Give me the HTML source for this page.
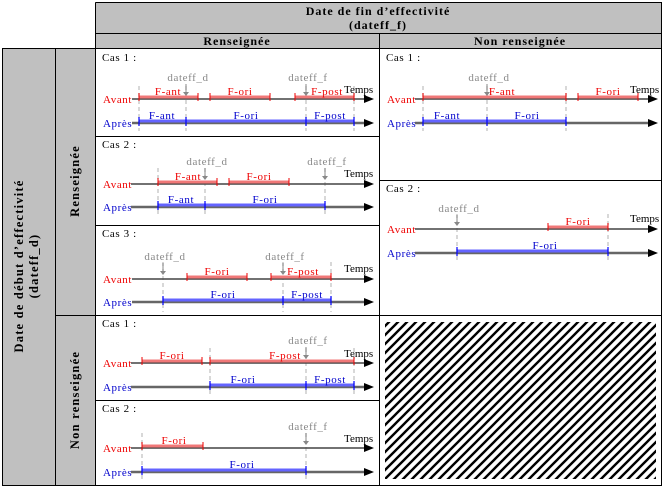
<!DOCTYPE html>
<html><head><meta charset="utf-8"><style>
body{margin:0;background:#fff}
svg{display:block;font-family:"Liberation Serif",serif;font-size:11px;letter-spacing:0.6px}
.ax{stroke:#444;stroke-width:1.6}
.ax2{stroke:#666;stroke-width:2.6}
.ah{fill:#000}
.r{stroke:#f07878;stroke-width:3}
.rt{stroke:#e00;stroke-width:1}
.b{stroke:#6464ff;stroke-width:3}
.bt{stroke:#00f;stroke-width:1.2}
.d{stroke:#ccc;stroke-width:1.5;stroke-dasharray:4 3}
.rl{fill:#e00;text-anchor:middle}
.bl{fill:#00c;text-anchor:middle}
.gl{fill:#888;text-anchor:middle}
.ga{stroke:#888;stroke-width:1}
.gh{fill:#888}
.av{fill:#e00}
.ap{fill:#00c}
.hd{font-weight:bold;font-size:12px;text-anchor:middle;letter-spacing:1px}
.vd{font-weight:bold;font-size:12.5px;text-anchor:middle;letter-spacing:1.2px}
</style></head><body>
<svg width="664" height="487" viewBox="0 0 664 487">
<defs>
<pattern id="h" patternUnits="userSpaceOnUse" width="9" height="9">
<path d="M-2 11L11 -2M-2 2L2 -2M7 11L11 7" stroke="#000" stroke-width="2.4"/>
</pattern>
</defs>
<rect x="95" y="2" width="567" height="46" fill="#c0c0c0"/>
<rect x="2" y="48" width="93" height="437" fill="#c0c0c0"/>
<g stroke="#000" stroke-width="1" fill="none">
<path d="M95.5 2.5H661.5V485.5H2.5V48.5H95.5V2.5"/>
<path d="M95.5 33.5H661.5M95.5 48.5H661.5M379.5 33.5V485.5M55.5 48.5V485.5M95.5 48.5V485.5"/>
<path d="M55.5 315.5H661.5M95.5 136.5H379.5M95.5 225.5H379.5M95.5 400.5H379.5M379.5 180.5H661.5"/>
</g>
<text class="hd" x="378" y="15">Date de fin d’effectivité</text>
<text class="hd" x="378" y="29">(dateff_f)</text>
<text class="hd" x="237" y="45">Renseignée</text>
<text class="hd" x="520" y="45">Non renseignée</text>
<text class="vd" transform="translate(23 266) rotate(-90)">Date de début d’effectivité</text>
<text class="vd" transform="translate(38 266) rotate(-90)">(dateff_d)</text>
<text class="vd" transform="translate(79 181) rotate(-90)">Renseignée</text>
<text class="vd" transform="translate(79 400) rotate(-90)">Non renseignée</text>
<rect x="385" y="322" width="271" height="157" fill="url(#h)"/>

<text x="102" y="61">Cas 1 :</text>
<text x="102" y="148">Cas 2 :</text>
<text x="102" y="237">Cas 3 :</text>
<text x="102" y="327">Cas 1 :</text>
<text x="102" y="412">Cas 2 :</text>
<text x="386" y="61">Cas 1 :</text>
<text x="386" y="192">Cas 2 :</text>

<g>
<path class="d" d="M139 86V131M186 86V131M306 86V131M354 86V131"/>
<text class="av" x="103" y="103">Avant</text><text class="ap" x="103" y="127">Après</text>
<path class="ax" d="M132 99H366"/><path class="ax2" d="M132 123H366"/><path class="ah" d="M364 95L374 99L364 103ZM364 119L374 123L364 127Z"/>
<text x="344" y="93" style="letter-spacing:0">Temps</text>
<text class="gl" x="188" y="81">dateff_d</text><path class="ga" d="M186 84V93"/><path class="gh" d="M183 92H189L186 96Z"/>
<text class="gl" x="308" y="81">dateff_f</text><path class="ga" d="M306 84V93"/><path class="gh" d="M303 92H309L306 96Z"/>
<path class="r" d="M139 97H198M210 97H270M295 97H354"/>
<path class="rt" d="M139 93V101M198 93V101M210 93V101M270 93V101M295 93V101M354 93V101"/>
<text class="rl" x="168" y="95">F-ant</text><text class="rl" x="240" y="95">F-ori</text><text class="rl" x="327" y="95">F-post</text>
<path class="b" d="M139 121H354"/><path class="bt" d="M139 117V126M186 117V126M306 117V126M354 117V126"/>
<text class="bl" x="162" y="119">F-ant</text><text class="bl" x="246" y="119">F-ori</text><text class="bl" x="330" y="119">F-post</text>
</g>
<g>
<path class="d" d="M158 168V216M205 168V216M325 168V216"/>
<text class="av" x="103" y="188">Avant</text><text class="ap" x="103" y="211">Après</text>
<path class="ax" d="M131 184H366"/><path class="ax2" d="M131 207H366"/><path class="ah" d="M364 180L374 184L364 188ZM364 203L374 207L364 211Z"/>
<text x="344" y="177" style="letter-spacing:0">Temps</text>
<text class="gl" x="207" y="165">dateff_d</text><path class="ga" d="M205 168V177"/><path class="gh" d="M202 176H208L205 180Z"/>
<text class="gl" x="327" y="165">dateff_f</text><path class="ga" d="M325 168V177"/><path class="gh" d="M322 176H328L325 180Z"/>
<path class="r" d="M158 182H217M229 182H289"/>
<path class="rt" d="M158 178V186M217 178V186M229 178V186M289 178V186"/>
<text class="rl" x="188" y="180">F-ant</text><text class="rl" x="259" y="180">F-ori</text>
<path class="b" d="M158 205H325"/><path class="bt" d="M158 201V210M205 201V210M325 201V210"/>
<text class="bl" x="181" y="203">F-ant</text><text class="bl" x="265" y="203">F-ori</text>
</g>
<g>
<path class="d" d="M163 262V312M283 262V312M331 262V312"/>
<text class="av" x="103" y="283">Avant</text><text class="ap" x="103" y="306">Après</text>
<path class="ax" d="M132 279H366"/><path class="ax2" d="M132 302H366"/><path class="ah" d="M364 275L374 279L364 283ZM364 298L374 302L364 306Z"/>
<text x="344" y="272" style="letter-spacing:0">Temps</text>
<text class="gl" x="165" y="260">dateff_d</text><path class="ga" d="M163 263V272"/><path class="gh" d="M160 271H166L163 275Z"/>
<text class="gl" x="285" y="260">dateff_f</text><path class="ga" d="M283 263V272"/><path class="gh" d="M280 271H286L283 275Z"/>
<path class="r" d="M187 277H247M271 277H331"/>
<path class="rt" d="M187 273V281M247 273V281M271 273V281M331 273V281"/>
<text class="rl" x="217" y="275">F-ori</text><text class="rl" x="303" y="275">F-post</text>
<path class="b" d="M163 300H331"/><path class="bt" d="M163 296V305M283 296V305M331 296V305"/>
<text class="bl" x="223" y="298">F-ori</text><text class="bl" x="307" y="298">F-post</text>
</g>
<g>
<path class="d" d="M210 348V396M306 348V396M354 348V396"/>
<text class="av" x="103" y="367">Avant</text><text class="ap" x="103" y="391">Après</text>
<path class="ax" d="M131 363H366"/><path class="ax2" d="M131 387H366"/><path class="ah" d="M364 359L374 363L364 367ZM364 383L374 387L364 391Z"/>
<text x="344" y="357" style="letter-spacing:0">Temps</text>
<text class="gl" x="308" y="344">dateff_f</text><path class="ga" d="M306 347V356"/><path class="gh" d="M303 355H309L306 359Z"/>
<path class="r" d="M142 361H202M210 361H354"/>
<path class="rt" d="M142 357V365M202 357V365M210 357V365M354 357V365"/>
<text class="rl" x="172" y="359">F-ori</text><text class="rl" x="285" y="359">F-post</text>
<path class="b" d="M210 385H354"/><path class="bt" d="M210 381V390M306 381V390M354 381V390"/>
<text class="bl" x="243" y="383">F-ori</text><text class="bl" x="330" y="383">F-post</text>
</g>
<g>
<path class="d" d="M142 433V482M306 433V482"/>
<text class="av" x="103" y="452">Avant</text><text class="ap" x="103" y="476">Après</text>
<path class="ax" d="M131 448H366"/><path class="ax2" d="M131 472H366"/><path class="ah" d="M364 444L374 448L364 452ZM364 468L374 472L364 476Z"/>
<text x="344" y="442" style="letter-spacing:0">Temps</text>
<text class="gl" x="308" y="430">dateff_f</text><path class="ga" d="M306 433V442"/><path class="gh" d="M303 441H309L306 445Z"/>
<path class="r" d="M142 446H203"/><path class="rt" d="M142 442V450M203 442V450"/>
<text class="rl" x="174" y="444">F-ori</text>
<path class="b" d="M142 470H306"/><path class="bt" d="M142 466V475M306 466V475"/>
<text class="bl" x="242" y="468">F-ori</text>
</g>
<g>
<path class="d" d="M423 86V131M487 86V131M566 86V131"/>
<text class="av" x="387" y="103">Avant</text><text class="ap" x="387" y="127">Après</text>
<path class="ax" d="M415 99H650"/><path class="ax2" d="M415 123H650"/><path class="ah" d="M648 95L658 99L648 103ZM648 119L658 123L648 127Z"/>
<text x="630" y="93" style="letter-spacing:0">Temps</text>
<text class="gl" x="489" y="81">dateff_d</text><path class="ga" d="M487 84V93"/><path class="gh" d="M484 92H490L487 96Z"/>
<path class="r" d="M423 97H566M578 97H638"/>
<path class="rt" d="M423 93V101M566 93V101M578 93V101M638 93V101"/>
<text class="rl" x="502" y="95">F-ant</text><text class="rl" x="608" y="95">F-ori</text>
<path class="b" d="M423 121H566"/><path class="bt" d="M423 117V126M487 117V126M566 117V126"/>
<text class="bl" x="447" y="119">F-ant</text><text class="bl" x="527" y="119">F-ori</text>
</g>
<g>
<path class="d" d="M457 214V262M608 214V262"/>
<text class="av" x="387" y="233">Avant</text><text class="ap" x="387" y="257">Après</text>
<path class="ax" d="M415 229H650"/><path class="ax2" d="M415 253H650"/><path class="ah" d="M648 225L658 229L648 233ZM648 249L658 253L648 257Z"/>
<text x="630" y="222" style="letter-spacing:0">Temps</text>
<text class="gl" x="459" y="212">dateff_d</text><path class="ga" d="M457 215V223"/><path class="gh" d="M454 222H460L457 226Z"/>
<path class="r" d="M548 227H608"/><path class="rt" d="M548 223V231M608 223V231"/>
<text class="rl" x="578" y="225">F-ori</text>
<path class="b" d="M457 251H608"/><path class="bt" d="M457 247V256M608 247V256"/>
<text class="bl" x="545" y="249">F-ori</text>
</g>
</svg>
</body></html>
